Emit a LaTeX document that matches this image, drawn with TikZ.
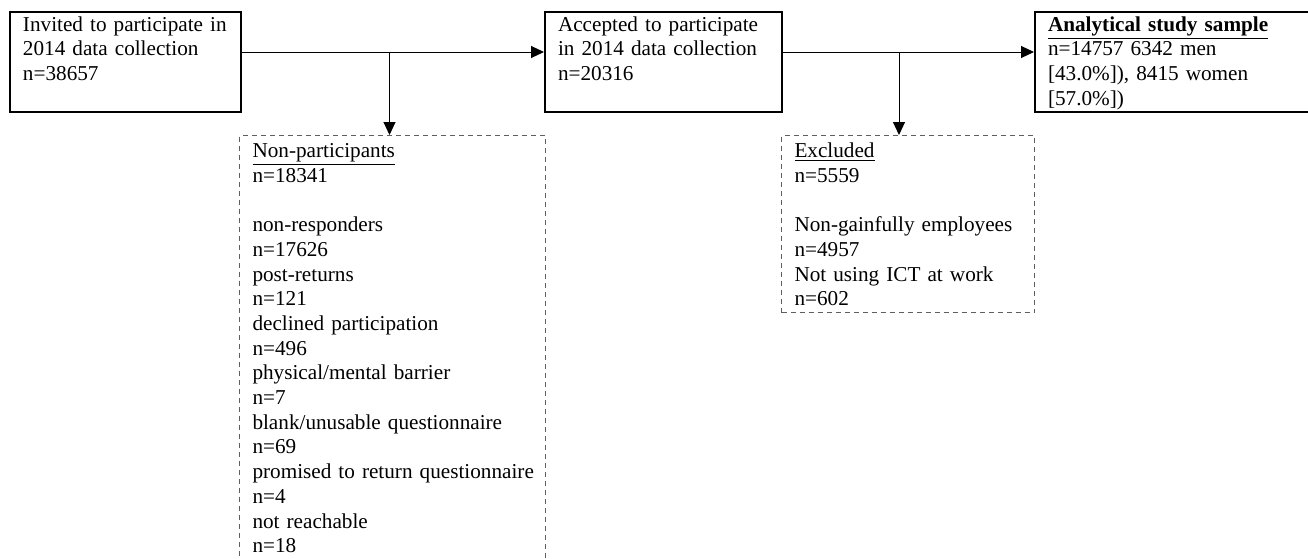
\documentclass[tikz,border=0pt]{standalone}
\usepackage{fontspec}
\setmainfont{Liberation Serif}
\usetikzlibrary{arrows.meta}
\definecolor{dashgray}{RGB}{95,95,95}

\begin{document}
\begin{tikzpicture}[x=0.5pt, y=-0.5pt,
        mainbox/.style={draw, line width=1pt, anchor=north west, align=left, font=\fontsize{10.6}{12.35}\selectfont, inner xsep=6.5pt, inner ysep=1.5pt, text height=8pt, text depth=39pt},
        dropbox/.style={draw=dashgray, line width=0.5pt, dash pattern=on 2.5pt off 2pt, anchor=north west, align=left, font=\fontsize{10.6}{12.35}\selectfont, inner xsep=6.5pt, inner ysep=3pt, text height=8pt},
        flow/.style={line width=0.5pt, -{Triangle[length=6.5pt, width=6pt]}}]
        \useasboundingbox (0,0) rectangle (1308,558);
        \clip (0,0) rectangle (1308,558);
        \node[mainbox, text width=102.5pt] (invited) at (9,11) {Invited to participate in\\2014 data collection\\n=38657};
        \node[mainbox, text width=105.5pt] (accepted) at (544,11) {Accepted to participate\\in 2014 data collection\\n=20316};
        \node[mainbox, text width=130pt] (sample) at (1034,11) {\textbf{\underline{Analytical study sample}}\\n=14757 6342 men\\{[}43.0\%]), 8415 women\\{[}57.0\%])};
        \node[dropbox, text width=140pt, text depth=206pt] (nonpart) at (239,135) {\underline{Non-participants}\\n=18341\\[12.35pt]non-responders\\n=17626\\post-returns\\n=121\\declined participation\\n=496\\physical/mental barrier\\n=7\\blank/unusable questionnaire\\n=69\\\mbox{promised to return questionnaire}\\n=4\\not reachable\\n=18};
        \node[dropbox, text width=113.5pt, text depth=74.5pt] (excluded) at (781,135) {\underline{Excluded}\\n=5559\\[12.35pt]Non-gainfully employees\\n=4957\\Not using ICT at work\\n=602};
        \coordinate (lvl) at (0,52);
        \coordinate (cutA) at ([xshift=-1.5pt]nonpart.north);
        \coordinate (cutB) at ([xshift=-4.5pt]excluded.north);
        \draw[flow] (invited.east |- lvl) -- (accepted.west |- lvl);
        \draw[flow] (cutA |- lvl) -- (cutA);
        \draw[flow] (accepted.east |- lvl) -- (sample.west |- lvl);
        \draw[flow] (cutB |- lvl) -- (cutB);
    \end{tikzpicture}
\end{document}
